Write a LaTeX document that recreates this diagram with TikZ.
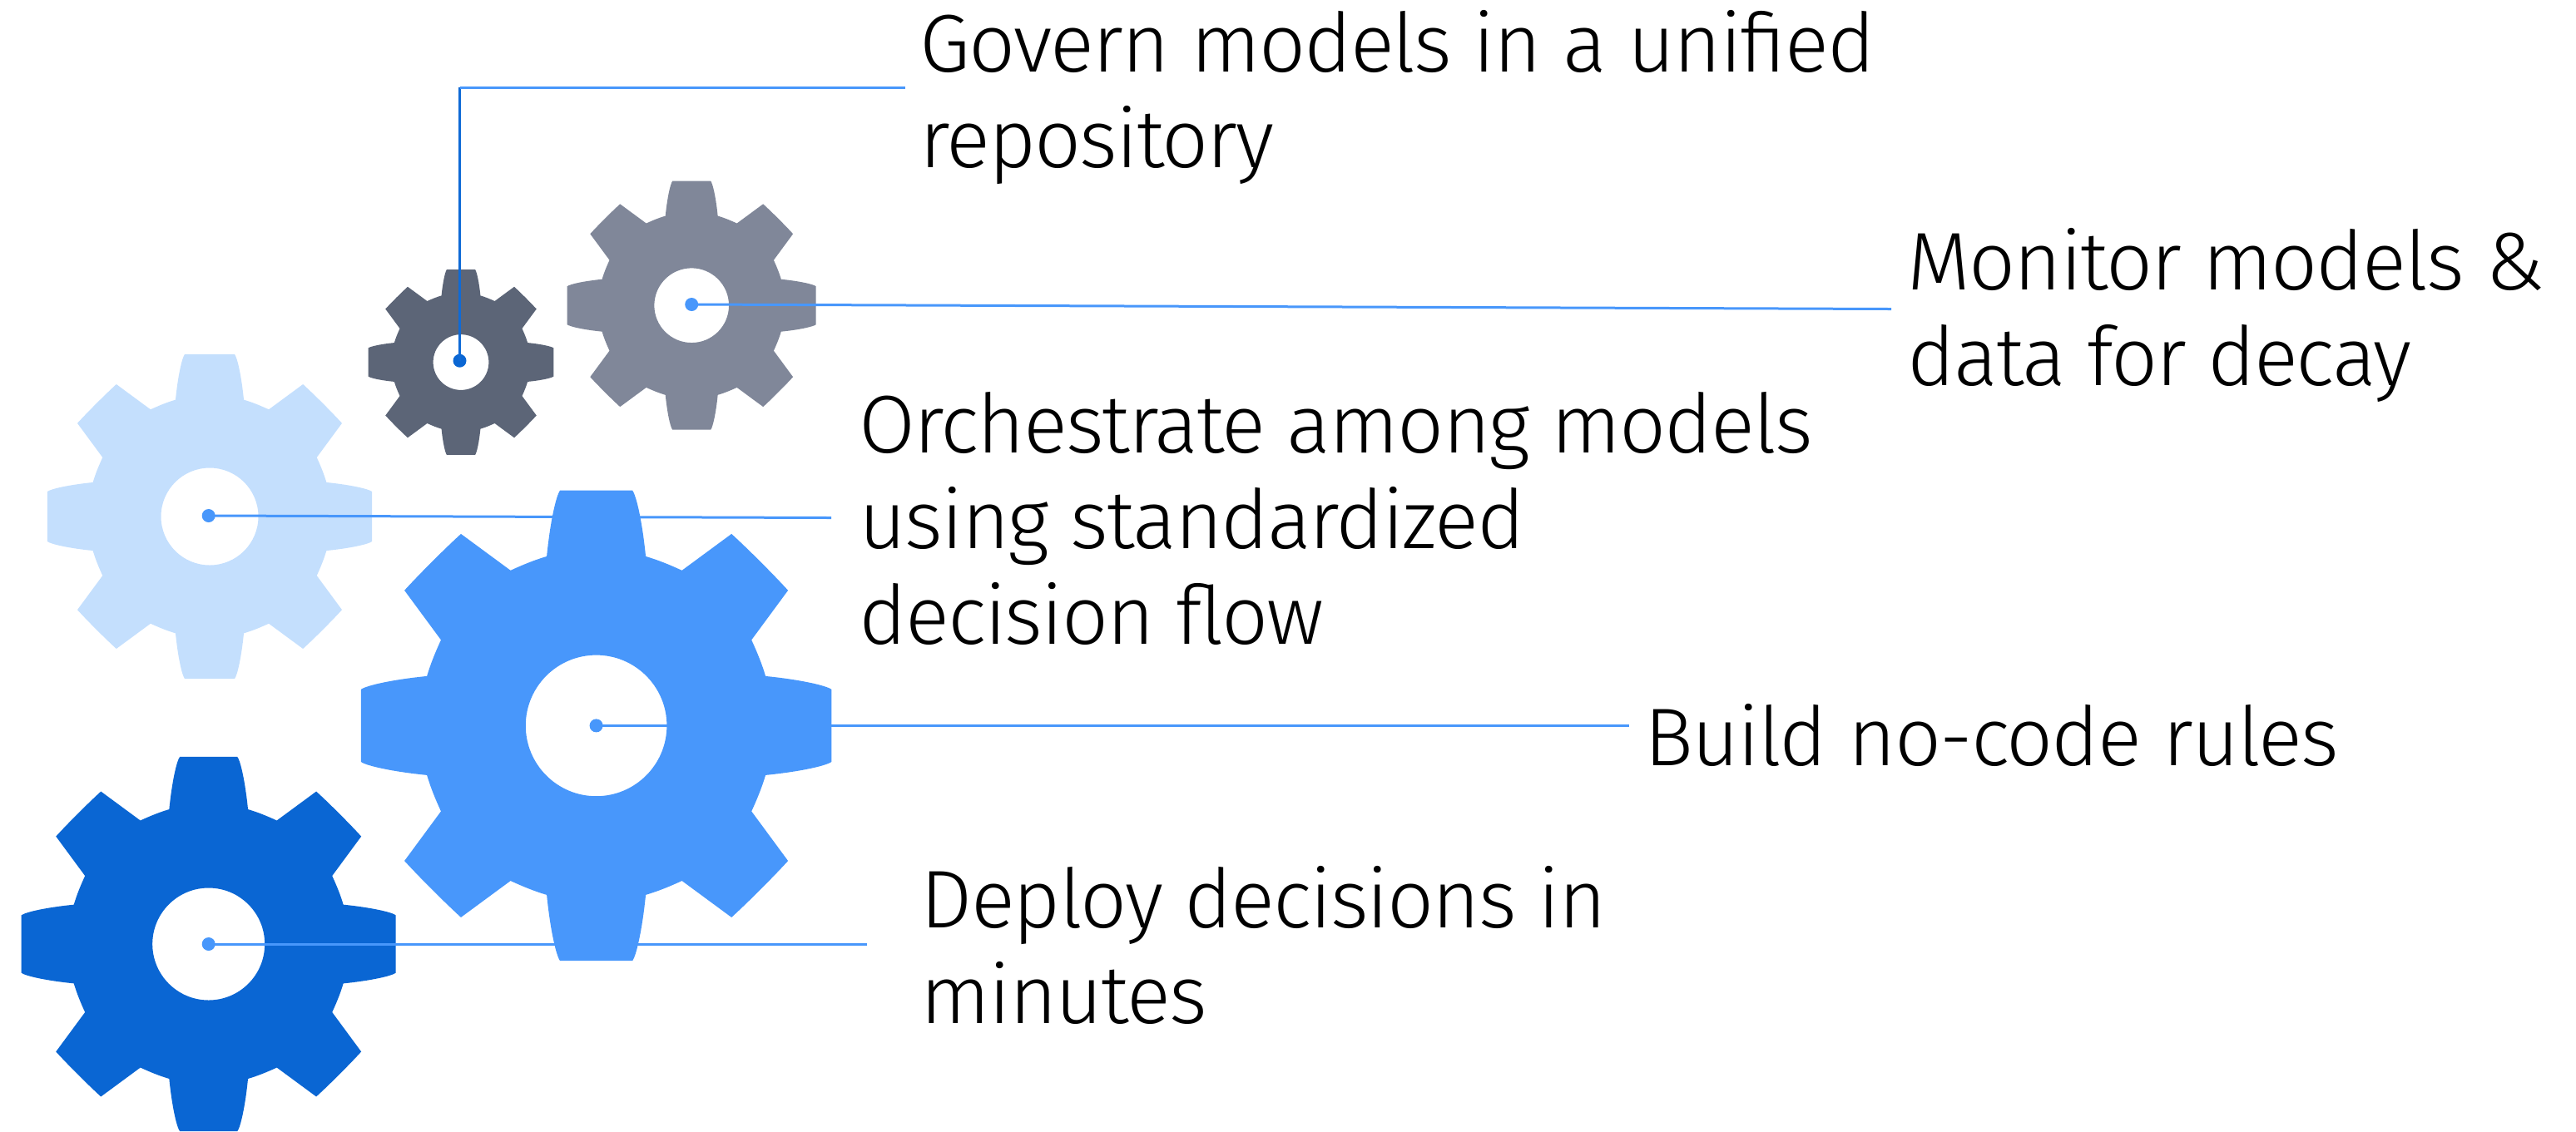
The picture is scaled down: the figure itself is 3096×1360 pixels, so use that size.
\documentclass[tikz,border=0pt]{standalone}
\usepackage{xcolor}
\usepackage{fontspec}
\setmainfont{Fira Sans}[UprightFont=* Light,LetterSpace=-2]
\usetikzlibrary{calc}

\definecolor{gearlight}{HTML}{C4DFFD}
\definecolor{gearblue}{HTML}{4897FB}
\definecolor{geardeep}{HTML}{0A66D3}
\definecolor{geargray}{HTML}{808799}
\definecolor{gearslate}{HTML}{5C6577}

% gear outline: centre, outer radius, colour
\newcommand{\gearat}[3]{
  \begin{scope}[shift={(#1)},scale=#2]
    \fill[#3,even odd rule] (-16.3:.75)
    \foreach \a in {0,90,180,270} {
      .. controls (\a-12.75:.888) and (\a-9.9:.993) .. (\a-8.75:1.012)
      -- (\a+8.75:1.012)
      .. controls (\a+9.9:.993) and (\a+12.75:.888) .. (\a+16.3:.75)
      .. controls (\a+20.5:.752) and (\a+24.7:.752) .. (\a+28.9:.754)
      -- (\a+35.2:.998)
      .. controls (\a+41:.99) and (\a+49:.99) .. (\a+54.8:.998)
      -- (\a+61.1:.754)
      .. controls (\a+65.3:.752) and (\a+69.5:.752) .. (\a+73.7:.75)
    } -- cycle (0,0) circle[radius=.3];
  \end{scope}
}

\begin{document}
\begin{tikzpicture}[x=0.1mm,y=-0.1mm,
    dot style/.style={circle,fill=gearblue,inner sep=0pt,minimum size=0.16cm},
    link style/.style={draw=gearblue,line width=0.03cm},
    label style/.style={anchor=base west,inner sep=0pt,align=left,text=black,
      font=\fontsize{28}{32.6}\selectfont}
  ]
  \useasboundingbox (0,0) rectangle (3096,1360);

  \gearat{252,621}{195}{gearlight}
  \gearat{716.6,872.4}{282.7}{gearblue}
  \gearat{250.7,1135}{225}{geardeep}
  \gearat{831.2,367.2}{149.5}{geargray}
  \gearat{554,435.5}{111.3}{gearslate}

  \node[dot style,fill=geardeep] (governdot) at (552.5,433.7) {};
  \node[dot style] (monitordot) at (831.2,366) {};
  \node[dot style] (orchdot) at (250.7,620) {};
  \node[dot style] (builddot) at (716.6,872.4) {};
  \node[dot style] (deploydot) at (250.7,1135) {};

  \coordinate (governcorner) at (552.5,105);
  \coordinate (governend) at (1088,105);
  \coordinate (monitorend) at (2273,371.5);
  \coordinate (orchend) at (999,622.5);
  \coordinate (buildend) at (1958,872.4);
  \coordinate (deployend) at (1042,1135);

  \node[label style] (governlabel) at (1105,201) {Govern models in a unified\\repository};
  \node[label style] (monitorlabel) at (2292,463) {Monitor models \&\\data for decay};
  \node[label style] (orchlabel) at (1032,774) {Orchestrate among models\\using standardized\\decision flow};
  \node[label style] (buildlabel) at (1976,920) {Build no-code rules};
  \node[label style] (deploylabel) at (1106,1230) {Deploy decisions in\\minutes};

  \draw[link style,draw=geardeep!92!gearblue] (governdot.center) -- (governcorner);
  \draw[link style] (governcorner) -- (governend);
  \draw[link style] (monitordot.center) -- (monitorend);
  \draw[link style] (orchdot.center) -- (orchend);
  \draw[link style] (builddot.center) -- (buildend);
  \draw[link style] (deploydot.center) -- (deployend);
\end{tikzpicture}
\end{document}
